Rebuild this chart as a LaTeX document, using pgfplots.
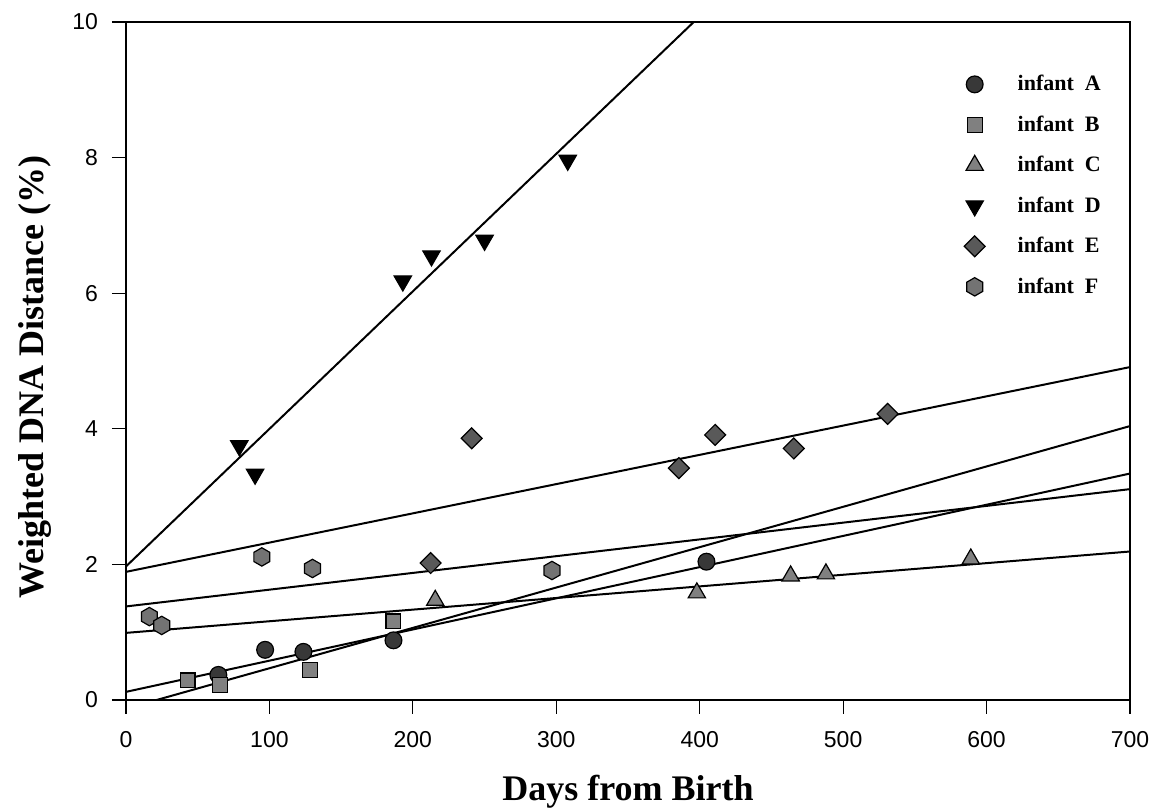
\documentclass[border=0pt]{standalone}
\usepackage{fontspec}
\setmainfont{Liberation Sans}
\newfontfamily\timesf{Liberation Serif}
\usepackage{pgfplots}
\pgfplotsset{compat=1.18}

% filled hexagon mark (pointy top)
\pgfdeclareplotmark{hexagon*}{%
  \pgfpathmoveto{\pgfqpointpolar{90}{\pgfplotmarksize}}%
  \pgfpathlineto{\pgfqpointpolar{150}{\pgfplotmarksize}}%
  \pgfpathlineto{\pgfqpointpolar{210}{\pgfplotmarksize}}%
  \pgfpathlineto{\pgfqpointpolar{270}{\pgfplotmarksize}}%
  \pgfpathlineto{\pgfqpointpolar{330}{\pgfplotmarksize}}%
  \pgfpathlineto{\pgfqpointpolar{30}{\pgfplotmarksize}}%
  \pgfpathclose
  \pgfusepathqfillstroke}

\begin{document}
\begin{tikzpicture}
\useasboundingbox (-63pt,-54pt) rectangle (512.5pt,350pt);
\begin{axis}[
    at={(0,0)}, anchor=south west,
    scale only axis, width=502pt, height=339pt,
    xmin=0, xmax=700, ymin=0, ymax=10,
    xtick={0,100,...,700}, ytick={0,2,...,10},
    tick align=outside, xtick pos=bottom, ytick pos=left,
    major tick length=7pt,
    axis line style={line width=0.8pt},
    tick style={black, line width=0.6pt},
    tick label style={font=\fontsize{11.5}{13}\selectfont},
    x tick label style={yshift=-5pt},
    y tick label style={xshift=-3.5pt},
    /pgf/number format/assume math mode=true,
    xlabel={Days from Birth},
    ylabel={Weighted DNA Distance (\%)},
    label style={font=\timesf\bfseries\fontsize{18}{20}\selectfont},
    x label style={at={(axis description cs:0.5,-0.136)}, anchor=center},
    y label style={at={(axis description cs:-0.0906,0.476)}, anchor=center},
    legend style={draw=none, fill=none, at={(axis description cs:0.828,0.934)},
      anchor=north west, row sep=7pt,
      font=\timesf\bfseries\fontsize{11}{13}\selectfont},
    legend cell align=left,
    legend image code/.code={\path (0pt,0pt) (24pt,0pt);
      \draw[#1] plot coordinates {(5pt,0pt)};},
    every axis plot/.append style={line width=1pt},
  ]
  % regression lines
  \addplot[black, no marks, forget plot] coordinates {(0,0.12) (700,3.34)};
  \addplot[black, no marks, forget plot] coordinates {(0,-0.127) (700,4.04)};
  \addplot[black, no marks, forget plot] coordinates {(0,0.99) (700,2.19)};
  \addplot[black, no marks, forget plot] coordinates {(0,1.97) (700,16.17)};
  \addplot[black, no marks, forget plot] coordinates {(0,1.89) (700,4.91)};
  \addplot[black, no marks, forget plot] coordinates {(0,1.38) (700,3.11)};

  % infant A
  \addplot[only marks, mark=*, mark size=4.2pt,
    mark options={fill=black!78, draw=black, line width=0.6pt}]
    coordinates {(64.4,0.37) (97,0.74) (123.7,0.71) (186.5,0.88) (404.7,2.04)};
  \addlegendentry{infant\ \ A}
  % infant B
  \addplot[only marks, mark=square*, mark size=3.7pt,
    mark options={fill=black!50, draw=black, line width=0.6pt}]
    coordinates {(43,0.29) (65.6,0.22) (128.4,0.44) (186.5,1.16)};
  \addlegendentry{infant\ \ B}
  % infant C
  \addplot[only marks, mark=triangle*, mark size=5pt,
    mark options={fill=black!50, draw=black, line width=0.6pt}]
    coordinates {(215.6,1.47) (398,1.58) (463.4,1.83) (488,1.86) (589,2.08)};
  \addlegendentry{infant\ \ C}
  % infant D
  \addplot[only marks, mark=triangle*, mark size=5pt,
    mark options={fill=black, draw=black, line width=0.6pt, rotate=180}]
    coordinates {(79,3.75) (90,3.33) (193,6.18) (213,6.55) (250,6.78) (308,7.96)};
  \addlegendentry{infant\ \ D}
  % infant E
  \addplot[only marks, mark=square*, mark size=3.7pt,
    mark options={fill=black!65, draw=black, line width=0.6pt, rotate=45}]
    coordinates {(212.4,2.02) (241,3.86) (385.5,3.42) (410.8,3.91) (465.6,3.71) (531,4.22)};
  \addlegendentry{infant\ \ E}
  % infant F
  \addplot[only marks, mark=hexagon*, mark size=4.6pt,
    mark options={fill=black!55, draw=black, line width=0.6pt}]
    coordinates {(16.3,1.23) (24.9,1.1) (94.7,2.11) (130,1.94) (297,1.91)};
  \addlegendentry{infant\ \ F}
\end{axis}
\end{tikzpicture}
\end{document}
